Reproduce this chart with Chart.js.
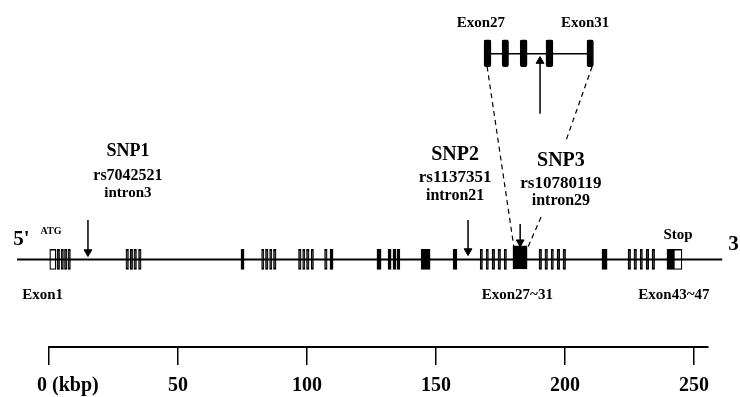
<!DOCTYPE html>
<html><head><meta charset="utf-8">
<script src="https://cdn.jsdelivr.net/npm/chart.js@4/dist/chart.umd.min.js"></script>
<style>html,body{margin:0;padding:0;background:#fff}#wrap{width:740px;height:397px;position:relative}</style>
</head><body><div id="wrap"><canvas id="c"></canvas></div>
<script>
// ---------- data (positions along the gene, kbp) ----------
const exonStart = [3.1,4.7,6.0,7.4, 29.8,31.4,32.9,34.7, 74.4, 82.4,83.9,85.5,87.0, 96.7,98.3,99.8,101.6, 106.8,108.9, 127.1, 131.4,133.3,134.9, 144.2, 156.6, 167.1,169.4,171.7,174.0,176.4, 189.9,192.2,194.6,196.9,199.2, 214.3, 224.4,226.7,229.1,231.4,233.7, 239.5];
const exonEnd   = [4.1,5.6,7.0,8.3, 30.8,32.4,33.9,35.7, 75.6, 83.3,84.9,86.4,88.0, 97.7,99.2,100.8,102.5, 107.8,110.1, 128.7, 132.6,134.5,136.0, 147.7, 158.1, 168.0,170.3,172.7,175.0,177.3, 190.9,193.2,195.5,197.9,200.2, 216.3, 225.4,227.7,230.0,232.4,234.7, 242.1];
const utrStart = [0, 242.1];
const utrEnd   = [2.7, 245.3];
const blockStart = [179.8];          // Exon27~31 cluster
const blockEnd   = [185.3];
const geneSpan = [-12.4, 260.9];
const insetStart = [168.6,175.6,182.6,192.6,208.5];   // magnified Exon27..Exon31
const insetEnd   = [171.3,178.1,185.3,195.3,211.0];
const insetSnp = 190.3;
const snpNames   = ['SNP1','SNP2','SNP3'];
const snpIds     = ['rs7042521','rs1137351','rs10780119'];
const snpIntrons = ['intron3','intron21','intron29'];
const snpPos     = [15.1, 162.4, 182.6];
const tickValues = [0,50,100,150,200,250];
const tickLabels = ['0 (kbp)','50','100','150','200','250'];
const regionLabels = ['Exon1','Exon27~31','Exon43~47'];
const insetLabels = ['Exon27','Exon31'];

// ---------- layout (pixels / anchors) ----------
const L = {
  geneY: 258, exonH: 20, blockY: 256, blockH: 23, insetY: 48.5, insetH: 27, insetLineY: 49,
  arrowTop: [218, 218, 222], arrowTip: [255, 254, 245], headR: 4.5,
  insetArrow: [110, 52],
  snpLabelX: [30.6, 157.4, 198.4],
  snpBase: [[153,177,195],[157,179,198],[163,185,203]],
  snpSize: [[18,16,15],[20,17,16],[20,17,16]],
  regionX: [-2.5, 181.5, 242.2], regionBase: 298,
  insetLabelX: [167.4, 207.8], insetLabelBase: 22,
  dashes: [[[169.8,62],[180.2,246]], [[210.5,62],[200.4,137]], [[190.7,215],[185.7,245]]]
};
const FONT = '"Liberation Serif","Times New Roman",serif';

const lineDs = (pts, extra) => Object.assign({
  type:'line', data: pts, borderColor:'#000', borderWidth:2, pointRadius:0,
  fill:false, tension:0, clip:false, yAxisID:'y', order:0
}, extra || {});

const datasets = [];
// gene backbone
datasets.push(lineDs([{x:geneSpan[0],y:L.geneY},{x:geneSpan[1],y:L.geneY}], {borderWidth:2}));
// inset backbone
datasets.push(lineDs([{x:(insetStart[0]+insetEnd[0])/2,y:L.insetLineY},{x:(insetStart[4]+insetEnd[4])/2,y:L.insetLineY}], {borderWidth:1.5}));
// dashed connectors
L.dashes.forEach(d => datasets.push(lineDs([{x:d[0][0],y:d[0][1]},{x:d[1][0],y:d[1][1]}], {borderWidth:1.2, borderDash:[5,4]})));
// SNP arrows
snpPos.forEach((p,i) => datasets.push(lineDs(
  [{x:p,y:L.arrowTop[i]},{x:p,y:L.arrowTip[i]-L.headR}],
  {borderWidth:1.5, pointRadius:[0,L.headR], pointStyle:'triangle', pointRotation:180,
   pointBackgroundColor:'#000', pointBorderColor:'#000', pointBorderWidth:1})));
// inset arrow (points up)
datasets.push(lineDs([{x:insetSnp,y:L.insetArrow[0]},{x:insetSnp,y:L.insetArrow[1]+L.headR}],
  {borderWidth:1.5, pointRadius:[0,L.headR], pointStyle:'triangle', pointRotation:0,
   pointBackgroundColor:'#000', pointBorderColor:'#000', pointBorderWidth:1}));
// exons (black) + UTR boxes (white)
const exonData = exonStart.map((s,i)=>({x:[s,exonEnd[i]], y:L.geneY}))
  .concat(utrStart.map((s,i)=>({x:[s,utrEnd[i]], y:L.geneY})));
const exonColors = exonStart.map(()=>'#000').concat(utrStart.map(()=>'#fff'));
datasets.push({type:'bar', indexAxis:'y', yAxisID:'y', data:exonData, backgroundColor:exonColors,
  borderColor:'#000', borderWidth:1.3, borderSkipped:false, barThickness:L.exonH, clip:false, order:1});
datasets.push({type:'bar', indexAxis:'y', yAxisID:'yBlk', data:blockStart.map((s,i)=>({x:[s,blockEnd[i]], y:L.blockY})),
  backgroundColor:'#000', borderColor:'#000', borderWidth:1, borderSkipped:false, barThickness:L.blockH, clip:false, order:1});
datasets.push({type:'bar', indexAxis:'y', yAxisID:'yIn', data:insetStart.map((s,i)=>({x:[s,insetEnd[i]], y:L.insetY})),
  backgroundColor:'#000', borderColor:'#000', borderWidth:1, borderSkipped:false, borderRadius:2, barThickness:L.insetH, clip:false, order:1});

const hiddenY = {type:'linear', display:false, min:0, max:347, reverse:true, offset:false};

const textPlugin = {
  id:'texts',
  afterDraw(chart){
    const {ctx} = chart; const x = chart.scales.x, y = chart.scales.y;
    const put = (t, kx, py, size, align) => {
      ctx.save(); ctx.font = `bold ${size}px ${FONT}`; ctx.fillStyle = '#000';
      ctx.textAlign = align || 'center'; ctx.textBaseline = 'alphabetic';
      ctx.fillText(t, x.getPixelForValue(kx), y.getPixelForValue(py)); ctx.restore();
    };
    snpNames.forEach((n,i)=>{
      put(n, L.snpLabelX[i], L.snpBase[i][0], L.snpSize[i][0]);
      put(snpIds[i], L.snpLabelX[i], L.snpBase[i][1], L.snpSize[i][1]);
      put(snpIntrons[i], L.snpLabelX[i], L.snpBase[i][2], L.snpSize[i][2]);
    });
    regionLabels.forEach((t,i)=>put(t, L.regionX[i], L.regionBase, 15));
    insetLabels.forEach((t,i)=>put(t, L.insetLabelX[i], L.insetLabelBase, 15));
    put("5'", -13.9, 243, 21, 'left');
    put('3', 263.2, 248, 21, 'left');
    put('ATG', 0.8, 232, 10);
    put('Stop', 243.8, 237, 15);
    // axis tick labels
    tickValues.forEach((v,i)=>{
      ctx.save(); ctx.font = `bold 20px ${FONT}`; ctx.fillStyle='#000';
      ctx.textAlign = i === 0 ? 'left' : 'center';
      ctx.fillText(tickLabels[i], x.getPixelForValue(v) - (i === 0 ? 12 : 0), 391); ctx.restore();
    });
  }
};

new Chart(document.getElementById('c'), {
  type:'bar',
  data:{datasets},
  options:{
    responsive:true, maintainAspectRatio:false, animation:false, events:[],
    layout:{padding:{left:49, right:32, top:0, bottom:0}},
    plugins:{legend:{display:false}, tooltip:{enabled:false}},
    scales:{
      x:{type:'linear', position:'bottom', min:0, max:255.4, offset:false,
         border:{display:true, color:'#000', width:2},
         grid:{display:true, offset:false, drawOnChartArea:false, drawTicks:true, tickLength:18, color:'#000', lineWidth:1.5},
         ticks:{display:false},
         afterBuildTicks:(s)=>{ s.ticks = tickValues.map(v=>({value:v})); },
         afterFit:(s)=>{ s.height = 50; }
      },
      y: hiddenY, yBlk: Object.assign({}, hiddenY), yIn: Object.assign({}, hiddenY)
    }
  },
  plugins:[textPlugin]
});
</script>
</body></html>
